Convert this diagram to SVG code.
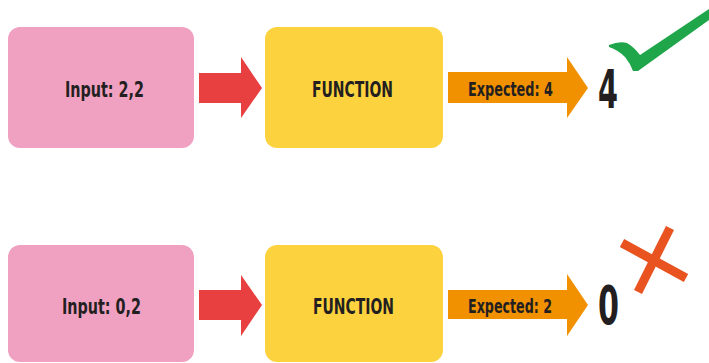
<svg xmlns="http://www.w3.org/2000/svg" width="709" height="363" viewBox="0 0 709 363">
<style>
.t{font-family:"DejaVu Sans Condensed","DejaVu Sans","Liberation Sans",sans-serif;font-stretch:condensed;font-weight:bold;fill:#231F20}
.pink{fill:#F0A1C1}
.yel{fill:#FDD23F}
.red{fill:#E84041}
.org{fill:#F29100}
</style>
<rect width="709" height="363" fill="#ffffff"/>
<g id="input1"><rect class="pink" x="8" y="27" width="186" height="121" rx="12"/><text class="t" x="65" y="97" font-size="22" textLength="79" lengthAdjust="spacingAndGlyphs">Input: 2,2</text></g>
<g id="function1"><rect class="yel" x="265" y="27" width="178" height="121" rx="12"/><text class="t" x="312" y="97" font-size="22" textLength="81" lengthAdjust="spacingAndGlyphs">FUNCTION</text></g>
<g id="input2"><rect class="pink" x="8" y="245" width="186" height="117" rx="12"/><text class="t" x="62" y="314" font-size="22" textLength="79" lengthAdjust="spacingAndGlyphs">Input: 0,2</text></g>
<g id="function2"><rect class="yel" x="265" y="245" width="178" height="117" rx="12"/><text class="t" x="313" y="314" font-size="22" textLength="81" lengthAdjust="spacingAndGlyphs">FUNCTION</text></g>
<g id="connectors">
<polygon class="red" points="199,73 241,73 241,57 262,88 241,118 241,103 199,103"/>
<polygon class="org" points="448,72 567,72 567,57 588,88 567,118 567,103 448,103"/>
<text class="t" x="468" y="96" font-size="19" textLength="85" lengthAdjust="spacingAndGlyphs">Expected: 4</text>
<polygon class="red" points="199,290 241,290 241,275 262,305 241,336 241,320 199,320"/>
<polygon class="org" points="448,290 567,290 567,274 588,305 567,336 567,319 448,319"/>
<text class="t" x="468" y="313" font-size="19" textLength="84" lengthAdjust="spacingAndGlyphs">Expected: 2</text>
</g>
<g id="result1"><text class="t" x="598" y="108" font-size="53" textLength="20" lengthAdjust="spacingAndGlyphs">4</text>
<path d="M609,45 Q619,41 627,43 Q634,47 640,55 L709,9 L709,20 L638,71 L633,71 Q630,63 625,57 Q618,50 609,47 Z" fill="#1FA64A"/></g>
<g id="result2"><text class="t" x="598" y="324" font-size="53" textLength="21" lengthAdjust="spacingAndGlyphs">0</text>
<g stroke="#E8531F" stroke-width="9"><line x1="622" y1="243" x2="686" y2="278"/><line x1="670" y1="228" x2="638" y2="292"/></g></g>
</svg>
